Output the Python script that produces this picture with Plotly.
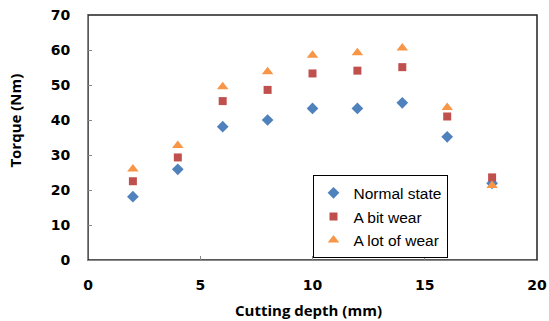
import plotly.graph_objects as go

# Cutting depth (mm)
depth = [2, 4, 6, 8, 10, 12, 14, 16, 18]

# Torque (Nm) for each tool condition
normal_state = [18.1, 25.9, 38.1, 40.0, 43.3, 43.3, 44.9, 35.2, 21.9]
bit_wear = [22.5, 29.3, 45.4, 48.6, 53.3, 54.1, 55.1, 41.0, 23.6]
lot_of_wear = [26.0, 32.7, 49.5, 53.8, 58.5, 59.2, 60.6, 43.6, 21.3]

series_names = ["Normal state", "A bit wear", "A lot of wear"]

x_ticks = [0, 5, 10, 15, 20]
y_ticks = [0, 10, 20, 30, 40, 50, 60, 70]

fig = go.Figure()
fig.add_trace(go.Scatter(x=depth, y=normal_state, mode="markers", name=series_names[0],
                         legendgroup="a",
                         marker=dict(symbol="diamond", size=9, color="#4F81BD")))
fig.add_trace(go.Scatter(x=depth, y=bit_wear, mode="markers", name=series_names[1],
                         legendgroup="b",
                         marker=dict(symbol="square", size=8, color="#C0504D")))
fig.add_trace(go.Scatter(x=depth, y=lot_of_wear, mode="markers", name=series_names[2],
                         legendgroup="c",
                         marker=dict(symbol="triangle-up", size=10, color="#F79646")))

tick_font = dict(family="DejaVu Sans", size=14, color="#000000", weight="bold")
title_font = dict(family="Open Sans", size=15, color="#000000")

fig.update_layout(
    width=549, height=321,
    margin=dict(l=87.5, r=12, t=15, b=61),
    paper_bgcolor="white", plot_bgcolor="white",
    showlegend=True,
    legend=dict(
        x=0.500, y=0.346, xanchor="left", yanchor="top",
        bordercolor="#000000", borderwidth=1, bgcolor="white",
        font=dict(family="Liberation Sans", size=15.5, color="#000000"),
        itemwidth=30, tracegroupgap=0.5,
    ),
    xaxis=dict(
        range=[0, 20], tickvals=x_ticks, showgrid=False, zeroline=False,
        showline=True, linecolor="#878787", linewidth=1,
        ticks="inside", ticklen=4, tickcolor="#878787",
        tickfont=tick_font, ticklabelstandoff=12,
        automargin=False,
    ),
    yaxis=dict(
        range=[0, 70], tickvals=y_ticks, showgrid=False, zeroline=False,
        showline=True, linecolor="#878787", linewidth=1,
        ticks="inside", ticklen=4, tickcolor="#878787",
        tickfont=tick_font, ticklabelstandoff=14,
        automargin=False,
    ),
    shapes=[dict(type="rect", xref="paper", yref="paper", x0=0, x1=1, y0=0, y1=1,
                 line=dict(color="#222222", width=1.5), layer="below")],
    annotations=[
        dict(text="<b>Cutting depth (mm)</b>", font=title_font, showarrow=False,
             xref="paper", yref="paper", x=0.49, y=-0.204,
             xanchor="center", yanchor="middle"),
        dict(text="<b>Torque (Nm)</b>", font=title_font, showarrow=False, textangle=-90,
             xref="paper", yref="paper", x=-0.162, y=0.57,
             xanchor="center", yanchor="middle"),
    ],
)

fig.write_html("out.html")
